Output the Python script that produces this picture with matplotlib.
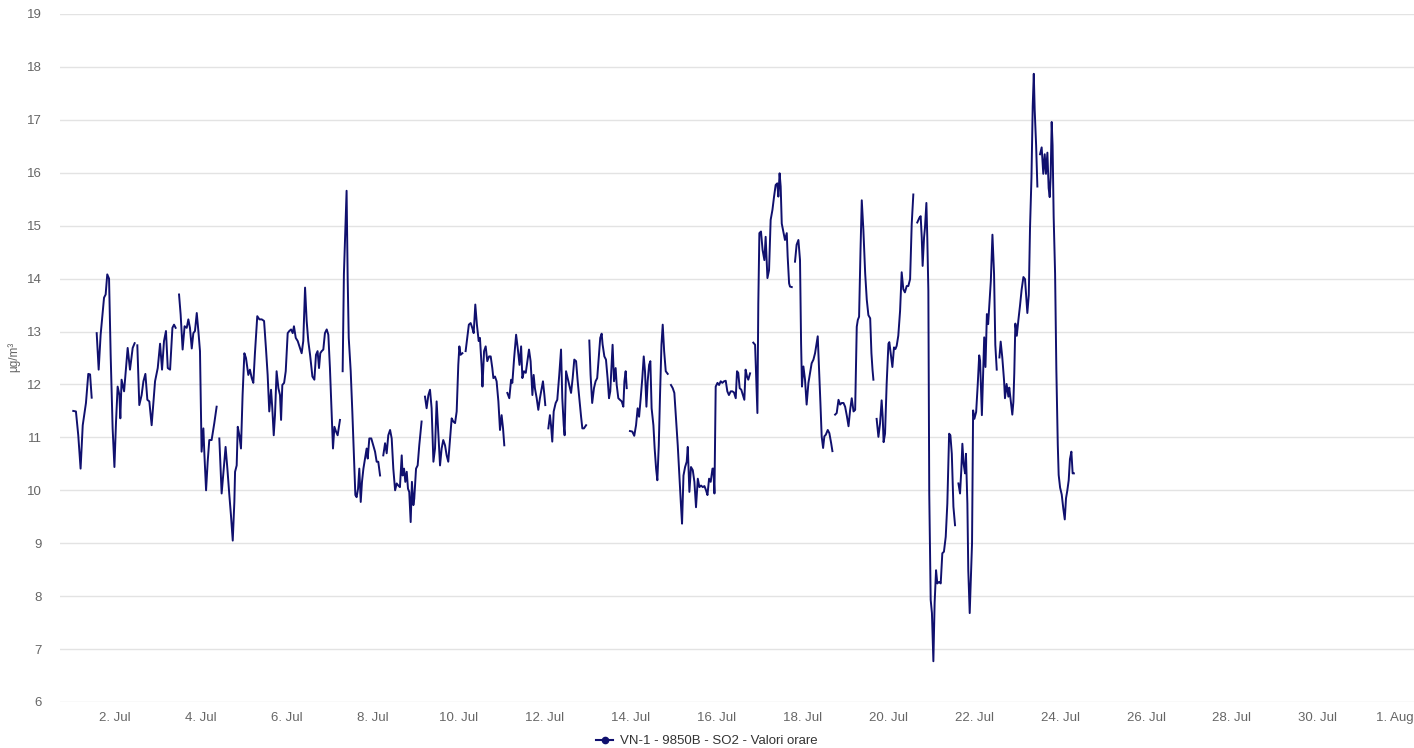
import numpy as np
import pandas as pd
import matplotlib
matplotlib.use("Agg")
import matplotlib.pyplot as plt
import matplotlib.dates as mdates
import matplotlib.transforms as mtransforms
from matplotlib.lines import Line2D

nan = np.nan

# hours since 1 Jul 00:00 and SO2 hourly values (µg/m³); NaN marks gaps
hours = [
    0.7, 2.2, 3.5, 4.8, 6.0, 7.8, 9.1, 10.1, 11.0, 12.4,
    13.8, 14.9, 16.0, 17.9, 18.8, 19.7, 20.7, 21.6, 22.7, 23.7, 24.6, 25.5, 26.5, 27.0, 27.7,
    29.1, 30.2, 31.1, 32.4, 33.9, 35.0, 35.7,
    36.5, 37.6, 38.9, 39.9, 41.0, 42.1, 43.2, 44.5, 46.4, 47.9, 49.2, 50.3, 51.4, 52.5, 53.5,
    54.8, 56.1, 57.0, 57.9, 58.8,
    59.8, 60.7, 61.8, 62.9, 64.1, 65.0, 65.9, 66.9, 67.8, 68.7, 69.7, 70.6, 71.5, 72.4, 73.4,
    73.9, 74.9, 75.8, 76.7, 78.0, 79.5, 80.8, 81.5,
    82.3, 83.6, 84.9, 85.8, 86.8, 87.9, 88.8, 89.8, 90.7, 91.1, 92.0, 92.6, 93.5, 94.4, 95.3,
    96.3, 97.2, 98.5, 99.4, 100.4, 101.3, 102.2, 103.5, 104.7, 106.0, 107.3, 108.4, 109.3,
    110.2, 111.2, 111.9, 112.7, 113.4, 114.3, 115.3, 116.2, 116.8, 117.5, 118.5, 119.4, 120.5,
    121.4, 122.4, 123.3, 124.0, 125.0, 126.1, 128.3, 129.2, 130.2, 131.1, 132.0, 133.0, 134.3,
    135.4, 136.3, 137.2, 138.0, 138.7, 139.5, 140.4, 141.3, 142.3, 143.2, 144.1, 145.1, 145.8,
    146.6, 147.5, 148.4, 149.7, 150.4,
    151.2, 151.9, 153.4, 154.0, 154.6, 155.7, 156.6, 157.5, 158.3, 159.0, 159.8, 160.5, 161.3,
    162.0, 162.8, 163.7, 164.6, 165.2, 166.1, 167.2, 168.3, 169.3, 170.2, 171.1, 172.1, 173.0,
    173.9, 174.9, 175.8, 176.7, 177.7, 178.6, 179.5, 180.5, 181.4, 182.3, 183.2, 184.2, 184.7,
    185.5, 186.2, 187.0, 187.7, 188.4, 189.2, 189.9, 190.7, 191.2, 192.2, 193.1, 194.0, 195.3,
    196.2,
    197.2, 198.1, 199.1, 200.0, 200.9, 201.9, 202.8, 203.7, 204.7, 205.6, 206.5, 207.4, 208.4,
    209.3, 210.2, 211.2, 212.1, 213.0, 214.0, 214.9, 215.8, 216.4, 217.1, 218.1, 219.0,
    219.9, 220.8, 221.7, 222.7, 223.6, 224.4, 225.3, 226.2, 227.2, 227.9, 228.9, 229.3, 230.2,
    231.1, 232.0, 233.0, 233.9, 234.8, 235.4, 236.3, 237.2, 238.2, 239.1, 240.0, 240.8, 241.5,
    242.3,
    243.2, 244.3, 245.3, 246.0, 247.0, 248.1, 249.0, 250.0, 250.9, 251.6, 252.5, 253.5, 254.4,
    255.3, 256.2, 257.2, 257.9, 258.6, 259.6, 260.5, 261.4, 262.4, 263.1, 263.9, 264.4, 265.2,
    266.1, 267.0, 267.6, 268.3, 269.1, 270.2, 271.1, 272.2, 273.2, 273.9, 274.7, 275.2, 276.0,
    276.9, 277.8, 278.8, 279.7, 280.6, 281.6, 282.5, 283.4, 284.4, 285.1, 286.0, 287.2, 288.1,
    289.0, 289.7, 290.6, 291.6, 292.5, 293.4, 294.4, 295.1, 295.9, 296.4, 297.4, 298.3, 299.2,
    300.0, 300.7, 301.5, 302.0, 302.8, 303.7, 304.3, 305.2, 306.1, 307.1, 308.0, 308.6, 309.3,
    309.9, 310.8,
    311.7, 313.0, 314.1, 315.1, 316.0, 316.8, 317.7, 318.6, 319.4, 320.1, 320.9, 321.6, 322.4,
    323.1, 323.8, 324.8, 325.5, 326.3, 327.0, 327.8, 328.5, 329.3, 330.0, 330.8, 331.7, 332.8,
    333.7,
    334.6, 335.6, 336.5, 337.4, 338.4, 339.3, 340.1, 340.8, 341.6, 342.5, 343.4, 344.0, 344.9,
    345.8, 346.8, 347.7, 348.6, 349.6, 350.5, 351.4, 352.4, 353.3, 354.2, 355.0, 355.9, 356.8,
    357.8, 358.3, 358.9, 359.6, 360.6, 361.5, 362.4, 363.3, 364.3, 365.2, 366.1, 367.0, 368.0,
    368.9, 369.8, 370.8, 371.5, 372.2, 373.0, 373.9, 374.8, 375.6, 376.3, 377.1, 377.8, 378.8,
    379.7,
    380.6, 381.6, 382.9, 383.4, 384.0, 384.9, 385.8, 386.8, 387.5, 388.5, 389.4, 390.3, 391.3,
    392.2, 393.1, 394.0, 394.6, 395.3, 395.9, 396.5, 397.4, 398.3, 399.3, 399.8, 400.6, 401.1,
    402.1, 403.0,
    403.9, 404.8, 405.8, 406.7, 407.3, 407.8, 408.6, 409.5, 410.4, 411.4, 412.3, 413.2, 414.2,
    415.1, 416.0, 416.6, 417.3, 418.1, 418.8, 419.6, 420.3, 421.1, 422.2, 423.1, 424.1, 424.8,
    425.5,
    426.3, 427.2, 428.2, 429.1, 430.0, 431.0, 431.9, 432.9, 433.8, 434.7, 435.6, 436.6, 437.5,
    438.4, 439.0, 439.7, 440.5, 441.2, 442.1, 443.1, 444.0, 444.9, 445.9, 446.6, 447.2, 447.7,
    448.6,
    449.5, 450.5, 451.4, 452.3, 452.9, 453.4, 454.2, 455.1, 456.1, 456.6, 457.4, 458.3, 459.2,
    460.0, 460.7, 461.6, 462.6, 463.5, 464.4, 465.3, 466.3, 467.2, 468.2, 469.1, 470.0, 471.1,
    472.2, 473.4, 474.1, 474.7, 475.2, 476.0, 476.5, 477.3, 477.8, 478.4, 478.9, 479.3, 479.7,
    480.4, 481.2, 481.9, 482.7, 483.4, 484.4, 485.3, 486.2, 487.1, 488.1, 489.0, 490.0, 490.7,
    491.5, 492.4, 493.3, 494.2,
    495.2, 496.1, 496.8, 497.4, 498.1, 498.9, 499.4, 500.2, 500.7, 501.5, 502.0, 502.8, 503.4,
    504.1, 505.1, 506.0, 506.8, 507.3, 508.3, 508.8, 509.6, 510.3, 511.1, 511.8, 512.6, 513.3,
    514.2, 515.1, 515.8, 516.6, 517.3,
    518.1, 518.8, 519.7, 520.7, 521.2, 522.1, 523.1, 523.6, 524.4, 525.3, 525.9, 526.4, 527.0,
    527.8, 528.7, 529.6, 530.5, 531.5, 532.4, 533.0, 533.7, 534.5, 535.2, 536.0, 536.7, 537.3,
    537.8, 538.6, 539.3, 540.0,
    540.8, 541.7, 542.6, 543.4, 544.1, 544.9, 545.6, 546.2, 546.7, 547.3, 547.8, 548.4, 549.2,
    549.9, 550.7, 551.2, 552.0, 552.9, 553.8, 554.6, 555.3, 556.0, 556.8, 557.5, 558.3, 559.0,
    559.7,
]

so2 = [
    11.50, 11.49, 11.04, 10.41, 11.23, 11.65, 12.20, 12.19, 11.75, nan,
    12.97, 12.28, 12.94, 13.64, 13.70, 14.08, 14.00, 12.56, 11.17, 10.44, 11.30, 11.96, 11.80, 11.36, 12.09,
    11.87, 12.31, 12.69, 12.28, 12.69, 12.78, nan,
    12.74, 11.61, 11.80, 12.06, 12.20, 11.71, 11.68, 11.23, 12.06, 12.31, 12.77, 12.28, 12.82, 13.01, 12.31,
    12.28, 13.07, 13.13, 13.07, nan,
    13.70, 13.32, 12.66, 13.10, 13.07, 13.23, 13.07, 12.68, 12.97, 13.01, 13.35, 13.01, 12.63, 10.73, 11.17,
    10.73, 10.00, 10.54, 10.95, 10.95, 11.27, 11.58, nan,
    10.98, 9.94, 10.47, 10.82, 10.41, 9.91, 9.53, 9.05, 9.78, 10.35, 10.47, 11.20, 11.04, 10.79, 11.80,
    12.59, 12.50, 12.18, 12.28, 12.12, 12.03, 12.59, 13.29, 13.23, 13.23, 13.20, 12.66, 12.18,
    11.49, 11.90, 11.55, 11.04, 11.42, 12.25, 11.93, 11.80, 11.33, 11.99, 12.03, 12.25, 12.97,
    13.01, 13.04, 12.97, 13.10, 12.88, 12.82, 12.59, 12.82, 13.83, 13.20, 12.82, 12.56, 12.15,
    12.09, 12.56, 12.63, 12.31, 12.59, 12.63, 12.66, 12.97, 13.04, 12.94, 12.31, 11.42, 10.79,
    11.20, 11.11, 11.04, 11.33, nan,
    12.25, 14.08, 15.66, 14.02, 12.88, 12.25, 11.49, 10.66, 9.91, 9.87, 10.03, 10.41, 9.78,
    10.16, 10.41, 10.60, 10.79, 10.60, 10.98, 10.98, 10.85, 10.73, 10.54, 10.54, 10.28, nan,
    10.66, 10.89, 10.70, 11.04, 11.14, 10.98, 10.41, 10.00, 10.13, 10.09, 10.06, 10.66, 10.28,
    10.41, 10.16, 10.35, 10.03, 9.97, 9.40, 10.16, 9.72, 9.84, 10.41, 10.47, 10.85, 11.30,
    nan,
    11.77, 11.55, 11.80, 11.90, 11.55, 10.54, 10.79, 11.68, 11.04, 10.47, 10.79, 10.95, 10.85,
    10.66, 10.54, 10.98, 11.36, 11.30, 11.27, 11.49, 12.37, 12.72, 12.56, 12.59, nan,
    12.63, 12.88, 13.13, 13.16, 13.07, 12.97, 13.51, 13.13, 12.82, 12.88, 12.31, 11.96, 12.63,
    12.72, 12.44, 12.53, 12.53, 12.31, 12.12, 12.15, 12.06, 11.68, 11.14, 11.42, 11.17, 10.85,
    nan,
    11.84, 11.74, 12.09, 12.03, 12.50, 12.94, 12.69, 12.37, 12.72, 12.12, 12.25, 12.22, 12.44,
    12.66, 12.44, 11.80, 12.18, 11.93, 11.74, 11.52, 11.74, 11.93, 12.06, 11.80, 11.61, nan,
    11.17, 11.42, 11.23, 10.92, 11.49, 11.65, 11.71, 12.18, 12.66, 11.74, 11.23, 11.04, 12.25,
    12.12, 11.99, 11.84, 12.12, 12.47, 12.44, 12.06, 11.74, 11.39, 11.17, 11.17, 11.23, nan,
    12.83, 12.18, 11.65, 11.93, 12.06, 12.12, 12.56, 12.88, 12.96, 12.76, 12.53, 12.47, 12.12,
    11.74, 11.87, 12.41, 12.75, 12.06, 12.31, 11.99, 11.74, 11.71, 11.68, 11.58, 12.06, 12.25,
    11.93, nan,
    11.12, 11.11, 11.03, 11.23, 11.55, 11.39, 11.74, 12.12, 12.53, 12.25, 11.58, 12.06, 12.37,
    12.44, 11.55, 11.23, 10.79, 10.41, 10.19, 10.85, 11.80, 12.75, 13.13, 12.63, 12.25, 12.20,
    nan,
    11.99, 11.93, 11.84, 11.36, 10.85, 10.28, 9.78, 9.37, 10.28, 10.44, 10.54, 10.82, 9.97,
    10.44, 10.38, 10.16, 9.68, 10.22, 10.06, 10.09, 10.06, 10.08, 10.00, 9.91, 10.22, 10.16,
    10.41, 10.41, 9.94, 11.96, 12.03, 11.99, 12.06, 12.03, 12.06, 12.07, 11.87, 11.80, 11.87,
    11.87, 11.85, 11.74, 12.25, 12.22, 11.93, 11.90, 11.80, 11.71, 12.28, 12.15, 12.09, 12.21,
    nan,
    12.79, 12.75, 11.46, 13.53, 14.86, 14.89, 14.54, 14.35, 14.79, 14.01, 14.16, 15.11, 15.30,
    15.55, 15.77, 15.80, 15.55, 15.99, 15.74, 15.04, 14.89, 14.73, 14.86, 14.42, 13.91, 13.85,
    13.84, nan,
    14.32, 14.64, 14.73, 14.35, 12.78, 11.96, 12.34, 12.09, 11.62, 12.03, 12.21, 12.40, 12.47,
    12.59, 12.78, 12.91, 12.34, 11.65, 11.02, 10.80, 11.02, 11.05, 11.14, 11.08, 10.89, 10.74,
    nan,
    11.43, 11.46, 11.71, 11.62, 11.65, 11.65, 11.58, 11.40, 11.21, 11.52, 11.74, 11.49, 11.52,
    13.09, 13.22, 13.28, 14.54, 15.48, 14.92, 14.10, 13.60, 13.31, 13.25, 12.59, 12.28, 12.09,
    nan,
    11.35, 11.01, 11.26, 11.70, 11.38, 10.91, 11.07, 12.01, 12.77, 12.80, 12.58, 12.33, 12.70,
    12.67, 12.73, 12.92, 13.39, 14.12, 13.80, 13.74, 13.86, 13.86, 13.99, 15.03, 15.59, nan,
    15.06, 15.15, 15.18, 14.78, 14.24, 14.78, 14.96, 15.43, 14.78, 13.77, 9.94, 8.93, 7.93,
    7.68, 6.77, 7.87, 8.49, 8.24, 8.27, 8.24, 8.81, 8.84, 9.12, 9.75, 11.07, 11.04,
    10.69, 9.69, 9.34, nan,
    10.13, 9.94, 10.38, 10.88, 10.50, 10.32, 10.69, 9.75, 8.49, 7.68, 8.18, 9.00, 11.51,
    11.35, 11.48, 12.01, 12.55, 12.45, 11.42, 12.01, 12.89, 12.33, 13.33, 13.14, 13.58, 13.96,
    14.83, 14.09, 12.75, 12.28, nan,
    12.51, 12.81, 12.51, 12.07, 11.74, 12.01, 11.77, 11.94, 11.70, 11.43, 11.67, 12.21, 13.15,
    12.92, 13.22, 13.49, 13.79, 14.03, 13.99, 13.69, 13.35, 13.69, 14.97, 15.91, 17.26, 17.87,
    17.19, 16.52, 15.74, nan,
    16.35, 16.48, 15.98, 16.35, 15.98, 16.38, 15.71, 15.54, 15.91, 16.96, 16.52, 15.17, 14.09,
    12.28, 10.86, 10.29, 10.05, 9.92, 9.65, 9.45, 9.85, 9.99, 10.19, 10.59, 10.73, 10.32,
    10.32,
]

series_label = "VN-1 - 9850B - SO2 - Valori orare"
y_label = "µg/m³"
y_ticks = list(range(6, 20))
x_tick_days = [pd.Timestamp("2023-07-%02d" % d) for d in range(2, 31, 2)] + [pd.Timestamp("2023-08-01")]

plt.rcParams["font.family"] = ["Liberation Sans", "DejaVu Sans"]

start = pd.Timestamp("2023-07-01 00:00")
times = start + pd.to_timedelta(np.array(hours), unit="h")
values = np.array(so2, dtype=float)

W, H = 1414, 748
fig = plt.figure(figsize=(W / 100, H / 100), dpi=100)
ax = fig.add_axes([60 / W, (H - 702) / H, (1414 - 60) / W, (702 - 14) / H])

line_color = "#10106e"
ax.plot(times, values, color=line_color, lw=1.4, solid_joinstyle="round")

ax.set_ylim(6, 19)
ax.set_yticks(y_ticks)
ax.grid(axis="y", color="#e3e3e3", lw=1)
ax.set_axisbelow(True)
for s in ax.spines.values():
    s.set_visible(False)

x0 = start - pd.Timedelta(hours=6.7)
x1 = start + pd.Timedelta(hours=749.7)
ax.set_xlim(x0, x1)
ax.set_xticks(x_tick_days)
labels = [f"{t.day}. {t.strftime('%b')}" for t in x_tick_days]
ax.set_xticklabels(labels[:-1] + [""])

ax.tick_params(axis="x", length=0, pad=7, labelsize=9.5, labelcolor="#666666")
ax.tick_params(axis="y", length=0, pad=13, labelsize=9.5, labelcolor="#666666")

# last x label kept inside the figure (right-aligned at the edge)
trans = mtransforms.blended_transform_factory(ax.transData, ax.transAxes)
last_x = mdates.date2num(x_tick_days[-1].to_pydatetime())
ax.annotate(labels[-1], xy=(last_x, 0), xycoords=trans,
            xytext=(9.5, -9.7), textcoords="offset pixels", ha="right", va="top",
            fontsize=9.5, color="#666666", annotation_clip=False)

fig.text(14 / W, 1 - 357 / H, y_label, rotation=90, ha="center", va="center",
         fontsize=8.5, color="#666666")

handle = Line2D([], [], color=line_color, lw=1.5, marker="o", markersize=4.5)
fig.legend([handle], [series_label], loc="center", bbox_to_anchor=(0.5, 1 - 741 / H),
           frameon=False, fontsize=9.5, handlelength=1.3, handletextpad=0.5,
           labelcolor="#333333")

fig.savefig("out.png", dpi=100)
